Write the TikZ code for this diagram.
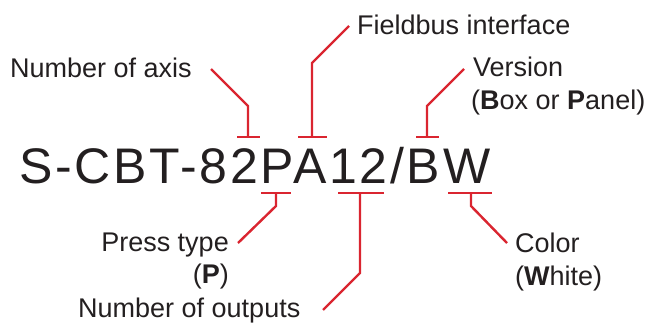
\documentclass[tikz,border=0pt]{standalone}
\usepackage{fontspec}
\setmainfont{Liberation Sans}
\definecolor{codered}{RGB}{218,37,48}
\definecolor{textblack}{RGB}{35,31,32}
\begin{document}
\begin{tikzpicture}[x=1pt,y=-1pt,
  lbl/.style={inner sep=0pt, text=textblack, font=\fontsize{27}{27}\selectfont},
  conn/.style={draw=codered, line width=2.4pt, line join=miter},
  bar/.style={draw=codered, line width=2.4pt}]
\useasboundingbox (0,0) rectangle (652,324);
% main code
\node[inner sep=0pt, anchor=base west, text=textblack,
  font=\fontsize{50}{50}\selectfont\addfontfeature{LetterSpace=5.5}] (code) at (19,183) {S-CBT-82PA12/BW};
% labels
\node[lbl, anchor=base west] (axis) at (10,77) {Number of axis};
\node[lbl, anchor=base west] (field) at (357,34) {Fieldbus interface};
\node[lbl, anchor=base west] (ver) at (473,76) {Version};
\node[lbl, anchor=base west] (ver2) at (471,109) {(\textbf{B}ox or \textbf{P}anel)};
\node[lbl, anchor=base east] (press) at (229,251) {Press type};
\node[lbl, anchor=base east] (press2) at (229,283) {(\textbf{P})};
\node[lbl, anchor=base west] (outs) at (78,317) {Number of outputs};
\node[lbl, anchor=base west] (color) at (515,252) {Color};
\node[lbl, anchor=base west] (color2) at (515,285) {(\textbf{W}hite)};
% connector end points
\coordinate (axisS) at (211,69);   \coordinate (axisK) at (248,106);  \coordinate (axisB) at (248,137);
\coordinate (fieldS) at (349,26);  \coordinate (fieldK) at (312,63);  \coordinate (fieldB) at (312,137);
\coordinate (verS) at (464,69);    \coordinate (verK) at (427,106);   \coordinate (verB) at (427,137);
\coordinate (pressS) at (238,243); \coordinate (pressK) at (276,206); \coordinate (pressB) at (276,193);
\coordinate (outsS) at (323,310);  \coordinate (outsK) at (360,273);  \coordinate (outsB) at (360,193);
\coordinate (colorS) at (507,243); \coordinate (colorK) at (471,206); \coordinate (colorB) at (471,193);
% connectors
\draw[conn] (axisS) -- (axisK) -- (axisB);
\draw[conn] (fieldS) -- (fieldK) -- (fieldB);
\draw[conn] (verS) -- (verK) -- (verB);
\draw[conn] (pressS) -- (pressK) -- (pressB);
\draw[conn] (outsS) -- (outsK) -- (outsB);
\draw[conn] (colorS) -- (colorK) -- (colorB);
% bars
\draw[bar] ([xshift=-11pt]axisB) -- ([xshift=12pt]axisB);
\draw[bar] ([xshift=-14pt]fieldB) -- ([xshift=15pt]fieldB);
\draw[bar] ([xshift=-11pt]verB) -- ([xshift=12pt]verB);
\draw[bar] ([xshift=-15pt]pressB) -- ([xshift=15pt]pressB);
\draw[bar] ([xshift=-22pt]outsB) -- ([xshift=24pt]outsB);
\draw[bar] ([xshift=-23pt]colorB) -- ([xshift=21pt]colorB);
\end{tikzpicture}
\end{document}
